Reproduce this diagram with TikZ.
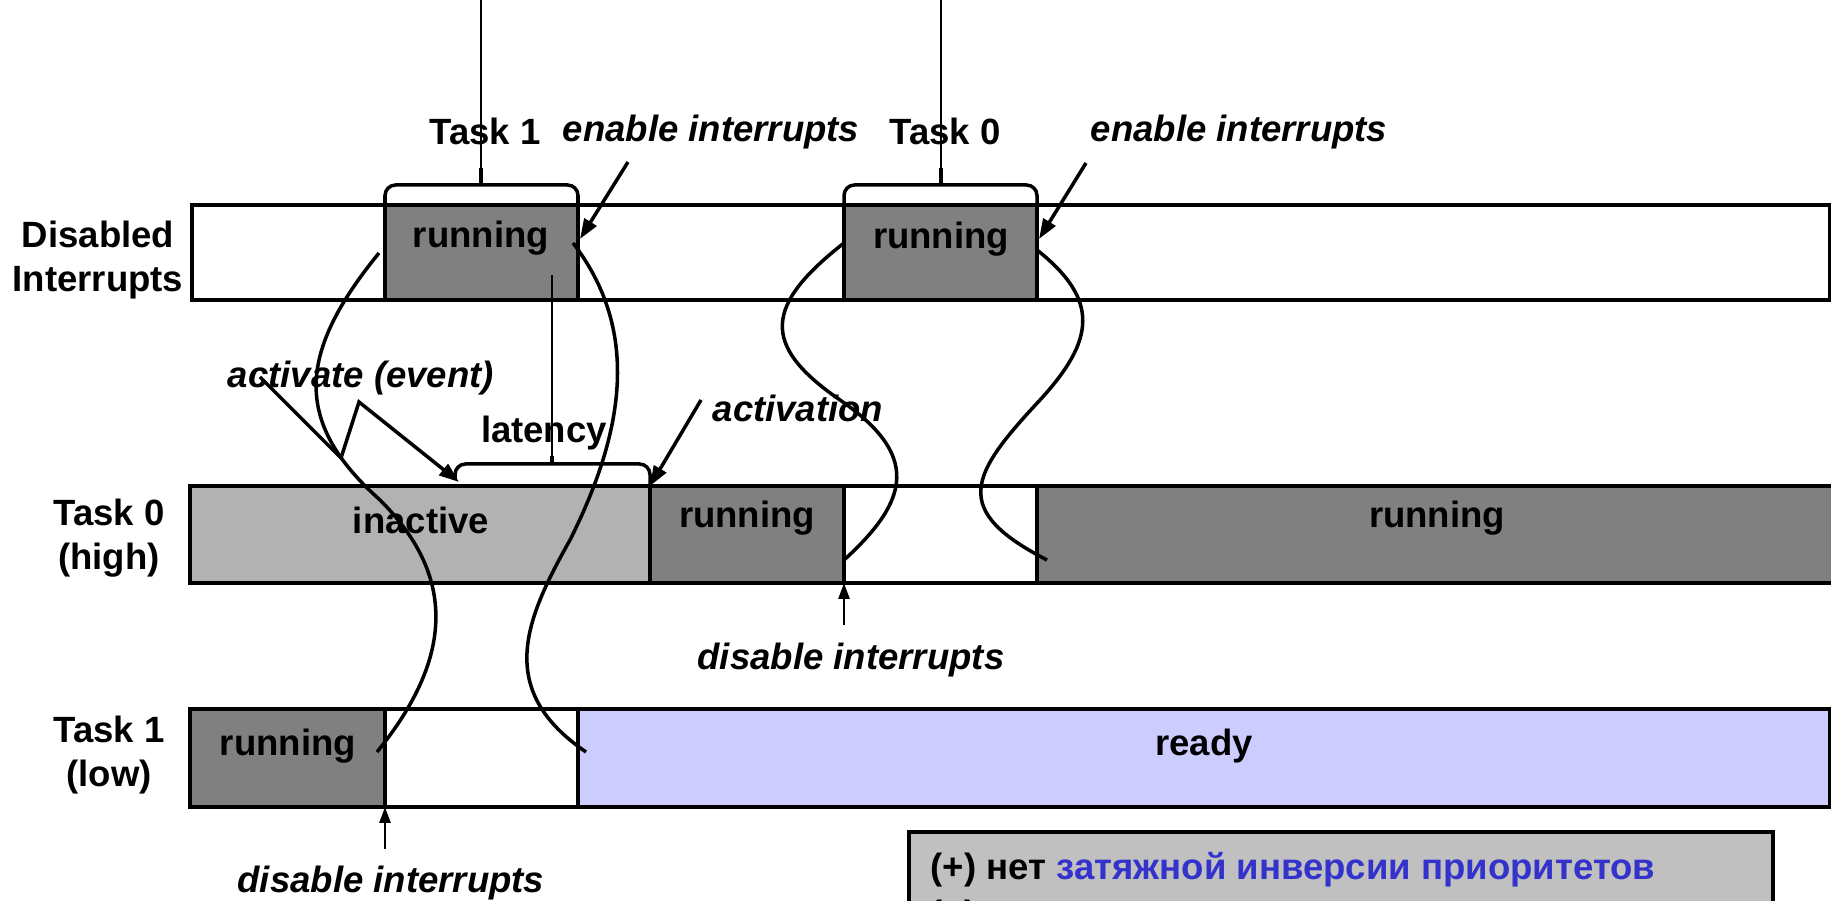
\documentclass[tikz,border=0pt]{standalone}
\usepackage{fontspec}
\setmainfont{Liberation Sans}
\usetikzlibrary{positioning, arrows.meta}

\definecolor{rungray}{HTML}{808080}
\definecolor{idlegray}{HTML}{B2B2B2}
\definecolor{readyblue}{HTML}{CCCCFF}
\definecolor{notegray}{HTML}{C0C0C0}
\definecolor{noteblue}{HTML}{3333CC}

\begin{document}
\begin{tikzpicture}[x=0.1mm, y=-0.1mm, font=\fontsize{10.4}{12.5}\selectfont\bfseries,
    seg/.style={draw, line width=1pt, inner sep=0pt, outer sep=0pt, anchor=west},
    dirow/.style={seg, minimum height=9.5mm},
    hirow/.style={seg, minimum height=9.7mm},
    lorow/.style={seg, minimum height=9.8mm},
    lbl/.style={inner sep=0pt, yshift=-0.35mm},
    evt/.style={inner sep=0pt, yshift=-0.4mm, font=\fontsize{10.4}{12.5}\selectfont\bfseries\itshape},
    wave/.style={line width=1pt},
    brc/.style={line width=1pt, rounded corners=3pt},
    >={Triangle[length=2mm, width=1.4mm]},
    uparr/.style={-{Triangle[length=1.6mm, width=1.1mm]}, line width=0.8pt}]
    \useasboundingbox (0,0) rectangle (1831,901);

    % Disabled interrupts row
    \node[dirow, minimum width=19.3mm] (di0) at (192,252.5) {};
    \node[dirow, minimum width=26.6mm] (di2) at (578,252.5) {};
    \node[dirow, minimum width=79.3mm] (di4) at (1037,252.5) {};
    \node[dirow, minimum width=19.3mm, fill=rungray] (di1) at (385,252.5) {};
    \node[dirow, minimum width=19.3mm, fill=rungray] (di3) at (844,252.5) {};

    % Task 0 row
    \node[hirow, minimum width=46mm, fill=idlegray] (hi0) at (190,534.5) {};
    \node[hirow, minimum width=19.4mm, fill=rungray] (hi1) at (650,534.5) {};
    \node[hirow, minimum width=19.3mm] (hi2) at (844,534.5) {};
    \node[hirow, minimum width=81mm, fill=rungray] (hi3) at (1037,534.5) {};

    % Task 1 row
    \node[lorow, minimum width=19.5mm, fill=rungray] (lo0) at (190,758) {};
    \node[lorow, minimum width=19.3mm] (lo1) at (385,758) {};
    \node[lorow, minimum width=125.2mm, fill=readyblue] (lo2) at (578,758) {};

    % row names
    \node[lbl, align=center] (n-di) at (98,257) {Disabled\\Interrupts};
    \node[lbl, align=center] (n-hi) at (109,535) {Task 0\\(high)};
    \node[lbl, align=center] (n-lo) at (109,752) {Task 1\\(low)};

    % states
    \node[lbl] (s-di1) at (481,235) {running};
    \node[lbl] (s-di3) at (941,236) {running};
    \node[lbl] (s-hi0) at (421,517) {inactive};
    \node[lbl] (s-hi1) at (747,515) {running};
    \node[lbl] (s-hi3) at (1437,515) {running};
    \node[lbl] (s-lo0) at (288,743) {running};
    \node[lbl] (s-lo2) at (1204,743) {ready};

    % events
    \node[lbl] (tsk1) at (485,128) {Task 1};
    \node[lbl] (tsk0) at (945,128) {Task 0};
    \node[evt] (en1) at (711,128) {enable interrupts};
    \node[evt] (en2) at (1239,128) {enable interrupts};
    \node[evt] (actev) at (361,374) {activate (event)};
    \node[lbl] (lat) at (544,430) {latency};
    \node[evt] (actn) at (798,404) {activation};
    \node[evt] (dis1) at (851,656) {disable interrupts};
    \node[evt] (dis2) at (391,879) {disable interrupts};

    % braces
    \coordinate (b1) at (481,185);
    \coordinate (b0) at (941,185);
    \coordinate (bl) at (552,464);
    \draw[brc] (di1.north west) |- (b1) -| (di1.north east);
    \draw[brc] (di3.north west) |- (b0) -| (di3.north east);
    \draw[brc] (455,480) |- (bl) -| (hi1.north west);
    \draw[line width=1pt] (b1) -- ++(0,-17);
    \draw[line width=1pt] (b0) -- ++(0,-17);
    \draw[line width=1pt] (bl) -- ++(0,-8);
    \draw[thin] (b1) -- (481,-10);
    \draw[thin] (b0) -- (941,-10);
    \draw[thin] (bl) -- (552,275);

    % context switches
    \coordinate (wa0) at (379,253);
    \coordinate (wa1) at (380,500);
    \coordinate (wa2) at (377,752);
    \coordinate (wb0) at (573,243);
    \coordinate (wb1) at (570,540);
    \coordinate (wb2) at (586,752);
    \coordinate (wc0) at (844,243);
    \coordinate (wc1) at (840,400);
    \coordinate (wc2) at (844,560);
    \coordinate (wd0) at (1037,250);
    \coordinate (wd1) at (1040,400);
    \coordinate (wd2) at (1047,560);
    \draw[wave] (wa0) .. controls (300,350) and (290,420) .. (wa1)
        .. controls (450,570) and (460,650) .. (wa2);
    \draw[wave] (wb0) .. controls (640,330) and (625,430) .. (wb1)
        .. controls (525,620) and (495,690) .. (wb2);
    \draw[wave] (wc0) .. controls (765,305) and (760,345) .. (wc1)
        .. controls (920,455) and (910,500) .. (wc2);
    \draw[wave] (wd0) .. controls (1100,300) and (1095,340) .. (wd1)
        .. controls (970,475) and (950,510) .. (wd2);

    % arrows
    \coordinate (en1s) at (628,162);
    \coordinate (en1e) at (580,239);
    \coordinate (en2s) at (1086,163);
    \coordinate (en2e) at (1039,239);
    \coordinate (acts) at (701,400);
    \coordinate (zz0) at (260,377);
    \coordinate (zz1) at (341,458);
    \coordinate (zz2) at (359,402);
    \coordinate (zz3) at (459,482);
    \coordinate (dis1s) at (844,625);
    \coordinate (dis2s) at (385,849);
    \draw[->, line width=1pt] (en1s) -- (en1e);
    \draw[->, line width=1pt] (en2s) -- (en2e);
    \draw[->, line width=1pt] (acts) -- (hi1.north west);
    \draw[->, line width=1pt] (zz0) -- (zz1) -- (zz2) -- (zz3);
    \draw[uparr] (dis1s) -- (hi2.south west);
    \draw[uparr] (dis2s) -- (lo1.south west);

    % note box
    \node[seg, line width=1.2pt, fill=notegray, anchor=north west,
        minimum width=86.4mm, minimum height=15mm] (note) at (909,832) {};
    \node[lbl, anchor=west] (note1) at (930,866)
        {(+) нет \textcolor{noteblue}{затяжной инверсии приоритетов}};
    \node[lbl, anchor=west] (note2) at (930,914) {(+)};
\end{tikzpicture}
\end{document}
